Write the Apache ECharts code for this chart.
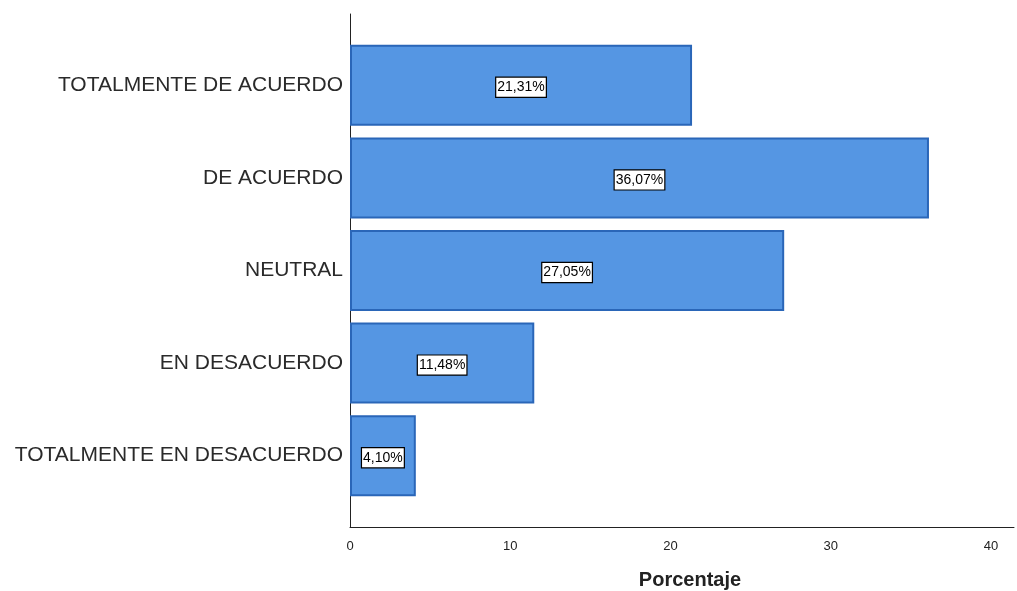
<!DOCTYPE html>
<html><head><meta charset="utf-8">
<script src="https://cdn.jsdelivr.net/npm/echarts@6/dist/echarts.min.js"></script>
<style>html,body{margin:0;padding:0;background:#fff}#c{width:1017px;height:591px}</style>
</head><body><div id="c"></div>
<script>
const categories = ['TOTALMENTE EN DESACUERDO','EN DESACUERDO','NEUTRAL','DE ACUERDO','TOTALMENTE DE ACUERDO'];
const values = [4.10, 11.48, 27.05, 36.07, 21.31];
const xTicks = [0, 10, 20, 30, 40];
const axisTitle = 'Porcentaje';

const chart = echarts.init(document.getElementById('c'));
const L = 350, R = 1017 - 1015;
const XMAX = 41.43;
const FONT = '"Liberation Sans", Arial, sans-serif';
chart.setOption({
  animation: false,
  grid: [
    {left: L, right: R, top: 14, bottom: 591 - 527},
    {left: L, right: R, top: 39, bottom: 591 - 502}
  ],
  xAxis: [
    {gridIndex: 0, type: 'value', min: 0, max: XMAX, interval: 10,
     axisLine: {show: true, lineStyle: {color: '#222', width: 1}},
     axisTick: {show: false}, splitLine: {show: false},
     axisLabel: {color: '#222', fontSize: 13, fontFamily: FONT, margin: 13,
       formatter: v => xTicks.includes(v) ? String(v) : ''}},
    {gridIndex: 1, type: 'value', min: 0, max: XMAX, show: false, splitLine: {show: false}}
  ],
  yAxis: [
    {gridIndex: 0, type: 'value', min: 0, max: 1,
     axisLine: {show: true, lineStyle: {color: '#222', width: 1}},
     axisTick: {show: false}, axisLabel: {show: false}, splitLine: {show: false}},
    {gridIndex: 1, type: 'category', data: categories,
     axisLine: {show: false}, axisTick: {show: false},
     axisLabel: {color: '#2a2a2a', fontSize: 21, fontFamily: FONT, margin: 7, padding: [5, 0, 0, 0]}}
  ],
  series: [{
    type: 'bar', xAxisIndex: 1, yAxisIndex: 1, data: values, barWidth: 81,
    itemStyle: {color: '#5596e3', borderColor: '#2a66b8', borderWidth: 2},
    label: {show: true, position: 'inside', offset: [0, 2], color: '#000', fontSize: 14, fontFamily: FONT,
      backgroundColor: '#fff', borderColor: '#000', borderWidth: 1.2, padding: [3, 1, 2, 1],
      formatter: p => p.value.toFixed(2).replace('.', ',') + '%'}
  }],
  graphic: [{type: 'text', x: 690, y: 570,
    style: {text: axisTitle, font: 'bold 20px ' + FONT, fill: '#222', textAlign: 'center'}}]
});
</script></body></html>
